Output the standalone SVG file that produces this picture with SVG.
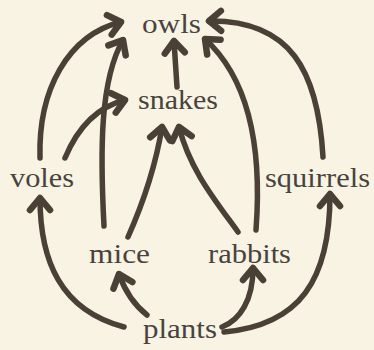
<svg xmlns="http://www.w3.org/2000/svg" width="374" height="350" viewBox="0 0 374 350">
<defs>
<style>
.lbl{font-family:"Liberation Serif","Times New Roman",serif;font-size:27px;fill:#48433e}
.edge{fill:none;stroke:#4a4036;stroke-width:5.5;stroke-linecap:round;stroke-linejoin:round}
</style>
<marker id="ah" markerUnits="userSpaceOnUse" markerWidth="30" markerHeight="30" viewBox="-20 -15 30 30" refX="0" refY="0" orient="auto">
<path d="M -12 -10 L 0 0 L -12 10" fill="none" stroke="#4a4036" stroke-width="6.5" stroke-linecap="round" stroke-linejoin="round"/>
</marker>
</defs>
<rect width="374" height="350" fill="#f8f3e2"/>
<g id="connectors">
<path class="edge" marker-end="url(#ah)" d="M 40 158 C 38 90 68 35 121 22"/>
<path class="edge" marker-end="url(#ah)" d="M 65 158 Q 85 110 125 100"/>
<path class="edge" marker-end="url(#ah)" d="M 104 226 C 100 150 100 80 123 40"/>
<path class="edge" marker-end="url(#ah)" d="M 128 237 C 140 210 155 170 162 127"/>
<path class="edge" marker-end="url(#ah)" d="M 238 232 C 215 200 190 170 179 127"/>
<path class="edge" marker-end="url(#ah)" d="M 177 87 L 174 41"/>
<path class="edge" marker-end="url(#ah)" d="M 256 230 C 262 150 250 80 205 39"/>
<path class="edge" marker-end="url(#ah)" d="M 323 157 C 318 70 290 20 209 21"/>
<path class="edge" marker-end="url(#ah)" d="M 124 327 C 60 310 40 260 40 198"/>
<path class="edge" marker-end="url(#ah)" d="M 147 315 Q 128 300 119 274"/>
<path class="edge" marker-end="url(#ah)" d="M 222 327 C 240 320 253 300 253 268"/>
<path class="edge" marker-end="url(#ah)" d="M 224 332 C 300 325 330 280 330 194"/>
</g>
<g id="owls"><text class="lbl" x="142" y="33" textLength="59" lengthAdjust="spacingAndGlyphs">owls</text></g>
<g id="snakes"><text class="lbl" x="138" y="109" textLength="80" lengthAdjust="spacingAndGlyphs">snakes</text></g>
<g id="voles"><text class="lbl" x="10" y="187" textLength="64" lengthAdjust="spacingAndGlyphs">voles</text></g>
<g id="squirrels"><text class="lbl" x="265" y="187" textLength="105" lengthAdjust="spacingAndGlyphs">squirrels</text></g>
<g id="mice"><text class="lbl" x="89" y="263" textLength="61" lengthAdjust="spacingAndGlyphs">mice</text></g>
<g id="rabbits"><text class="lbl" x="208" y="263" textLength="83" lengthAdjust="spacingAndGlyphs">rabbits</text></g>
<g id="plants"><text class="lbl" x="143" y="338" textLength="74" lengthAdjust="spacingAndGlyphs">plants</text></g>
</svg>
